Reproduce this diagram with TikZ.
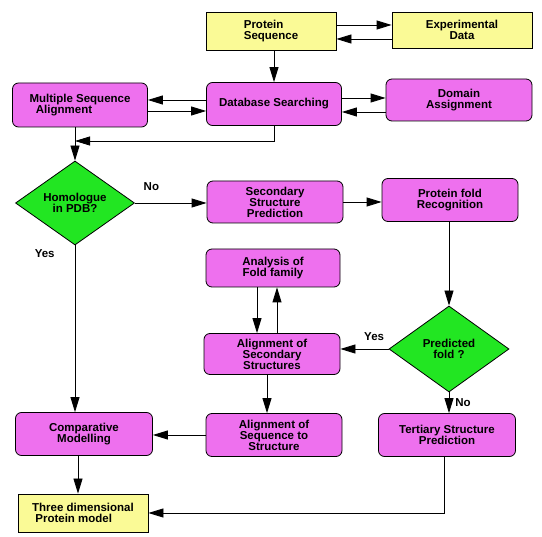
\documentclass[tikz,border=0pt]{standalone}
\usepackage{fontspec}
\setmainfont{Liberation Sans}
\usepackage{tikz}
\usetikzlibrary{arrows.meta,shapes.geometric}
\definecolor{boxpink}{RGB}{238,112,238}
\definecolor{boxyellow}{RGB}{250,250,150}
\definecolor{boxgreen}{RGB}{34,230,34}

\begin{document}
\begin{tikzpicture}[x=1pt,y=-1pt,
        every node/.style={font=\fontsize{11.5}{11}\selectfont\bfseries},
        procbox/.style={draw,line width=0.8pt,fill=boxpink,rounded corners=6pt,align=center,inner sep=1pt},
        infobox/.style={draw,line width=0.8pt,fill=boxyellow,align=center,inner sep=1pt},
        decision/.style={draw,line width=0.8pt,fill=boxgreen,diamond,align=center,inner sep=0pt},
        arrowline/.style={line width=0.8pt,-{Triangle[length=15pt,width=9pt]}},
        lbl/.style={inner sep=0pt}]
        \useasboundingbox (0,0) rectangle (542,537);
        \node[infobox,minimum width=130pt,minimum height=38pt,align=left] (seq) at (271,31) {Protein\\Sequence};
        \node[infobox,minimum width=140pt,minimum height=36pt] (expt) at (462,30) {Experimental\\Data};
        \node[procbox,minimum width=135pt,minimum height=44pt,align=left] (msa) at (80,105) {Multiple Sequence\\\ \ Alignment};
        \node[procbox,minimum width=135pt,minimum height=43pt] (dbs) at (274,104) {Database Searching};
        \node[procbox,minimum width=146pt,minimum height=42pt] (dom) at (459,100) {Domain\\Assignment};
        \node[decision,minimum width=119pt,minimum height=84pt] (homol) at (75,203) {Homologue\\in PDB?};
        \node[procbox,minimum width=136pt,minimum height=42pt] (ssp) at (275,202) {Secondary\\Structure\\Prediction};
        \node[procbox,minimum width=136pt,minimum height=43pt] (recog) at (450,200) {Protein fold\\Recognition};
        \node[procbox,minimum width=134pt,minimum height=38pt] (family) at (273,268) {Analysis of\\Fold family};
        \node[procbox,minimum width=136pt,minimum height=41pt] (alsec) at (272,354) {Alignment of\\Secondary\\Structures};
        \node[decision,minimum width=120pt,minimum height=86pt] (fold) at (449,349) {Predicted\\fold ?};
        \node[procbox,minimum width=136pt,minimum height=43pt] (alseq) at (274,435) {Alignment of\\Sequence to\\Structure};
        \node[procbox,minimum width=137pt,minimum height=43pt] (model) at (84,434) {Comparative\\Modelling};
        \node[procbox,minimum width=137pt,minimum height=43pt] (tert) at (447,435) {Tertiary Structure\\Prediction};
        \node[infobox,minimum width=130pt,minimum height=38pt,align=left] (final) at (83,513) {Three dimensional\\\ Protein model};
        \draw[arrowline] ([yshift=6pt]seq.east) -- ([yshift=6pt]seq.east -| expt.west);
        \draw[arrowline] ([yshift=-8pt]seq.east -| expt.west) -- ([yshift=-8pt]seq.east);
        \draw[arrowline] (dbs.north |- seq.south) -- (dbs.north);
        \draw[arrowline] ([yshift=4pt]dbs.west) -- ([yshift=4pt]dbs.west -| msa.east);
        \draw[arrowline] ([yshift=-7pt]dbs.west -| msa.east) -- ([yshift=-7pt]dbs.west);
        \draw[arrowline] ([yshift=6pt]dbs.east) -- ([yshift=6pt]dbs.east -| dom.west);
        \draw[arrowline] ([yshift=-8pt]dbs.east -| dom.west) -- ([yshift=-8pt]dbs.east);
        \coordinate (merge) at (75,141);
        \draw[arrowline] (dbs.south) |- (merge);
        \draw[line width=0.8pt] (homol.north |- msa.south) -- (merge);
        \draw[arrowline] (merge) -- (homol.north);
        \draw[arrowline] (homol.east) -- (homol.east -| ssp.west) node[lbl,pos=0.23,above=12pt] {No};
        \draw[arrowline] (ssp.east) -- (ssp.east -| recog.west);
        \draw[arrowline] (fold.north |- recog.south) -- (fold.north);
        \draw[arrowline] ([xshift=-16pt]family.south) -- ([xshift=-16pt]family.south |- alsec.north);
        \draw[arrowline] ([xshift=4pt]family.south |- alsec.north) -- ([xshift=4pt]family.south);
        \draw[arrowline] (fold.west) -- (fold.west -| alsec.east) node[lbl,pos=0.3,above=8pt] {Yes};
        \draw[arrowline] (fold.south) -- (fold.south |- tert.north) node[lbl,pos=0.5,right=6pt] {No};
        \draw[arrowline] ([xshift=-5pt]alsec.south) -- ([xshift=-5pt]alsec.south |- alseq.north);
        \draw[arrowline] (alseq.west) -- (alseq.west -| model.east);
        \draw[arrowline] (homol.south) -- (homol.south |- model.north) node[lbl,pos=0.05,left=20pt] {Yes};
        \draw[arrowline] ([xshift=-6pt]model.south) -- ([xshift=-6pt]model.south |- final.north);
        \draw[arrowline] ([xshift=-3pt]tert.south) |- (final.east);
    \end{tikzpicture}
\end{document}
